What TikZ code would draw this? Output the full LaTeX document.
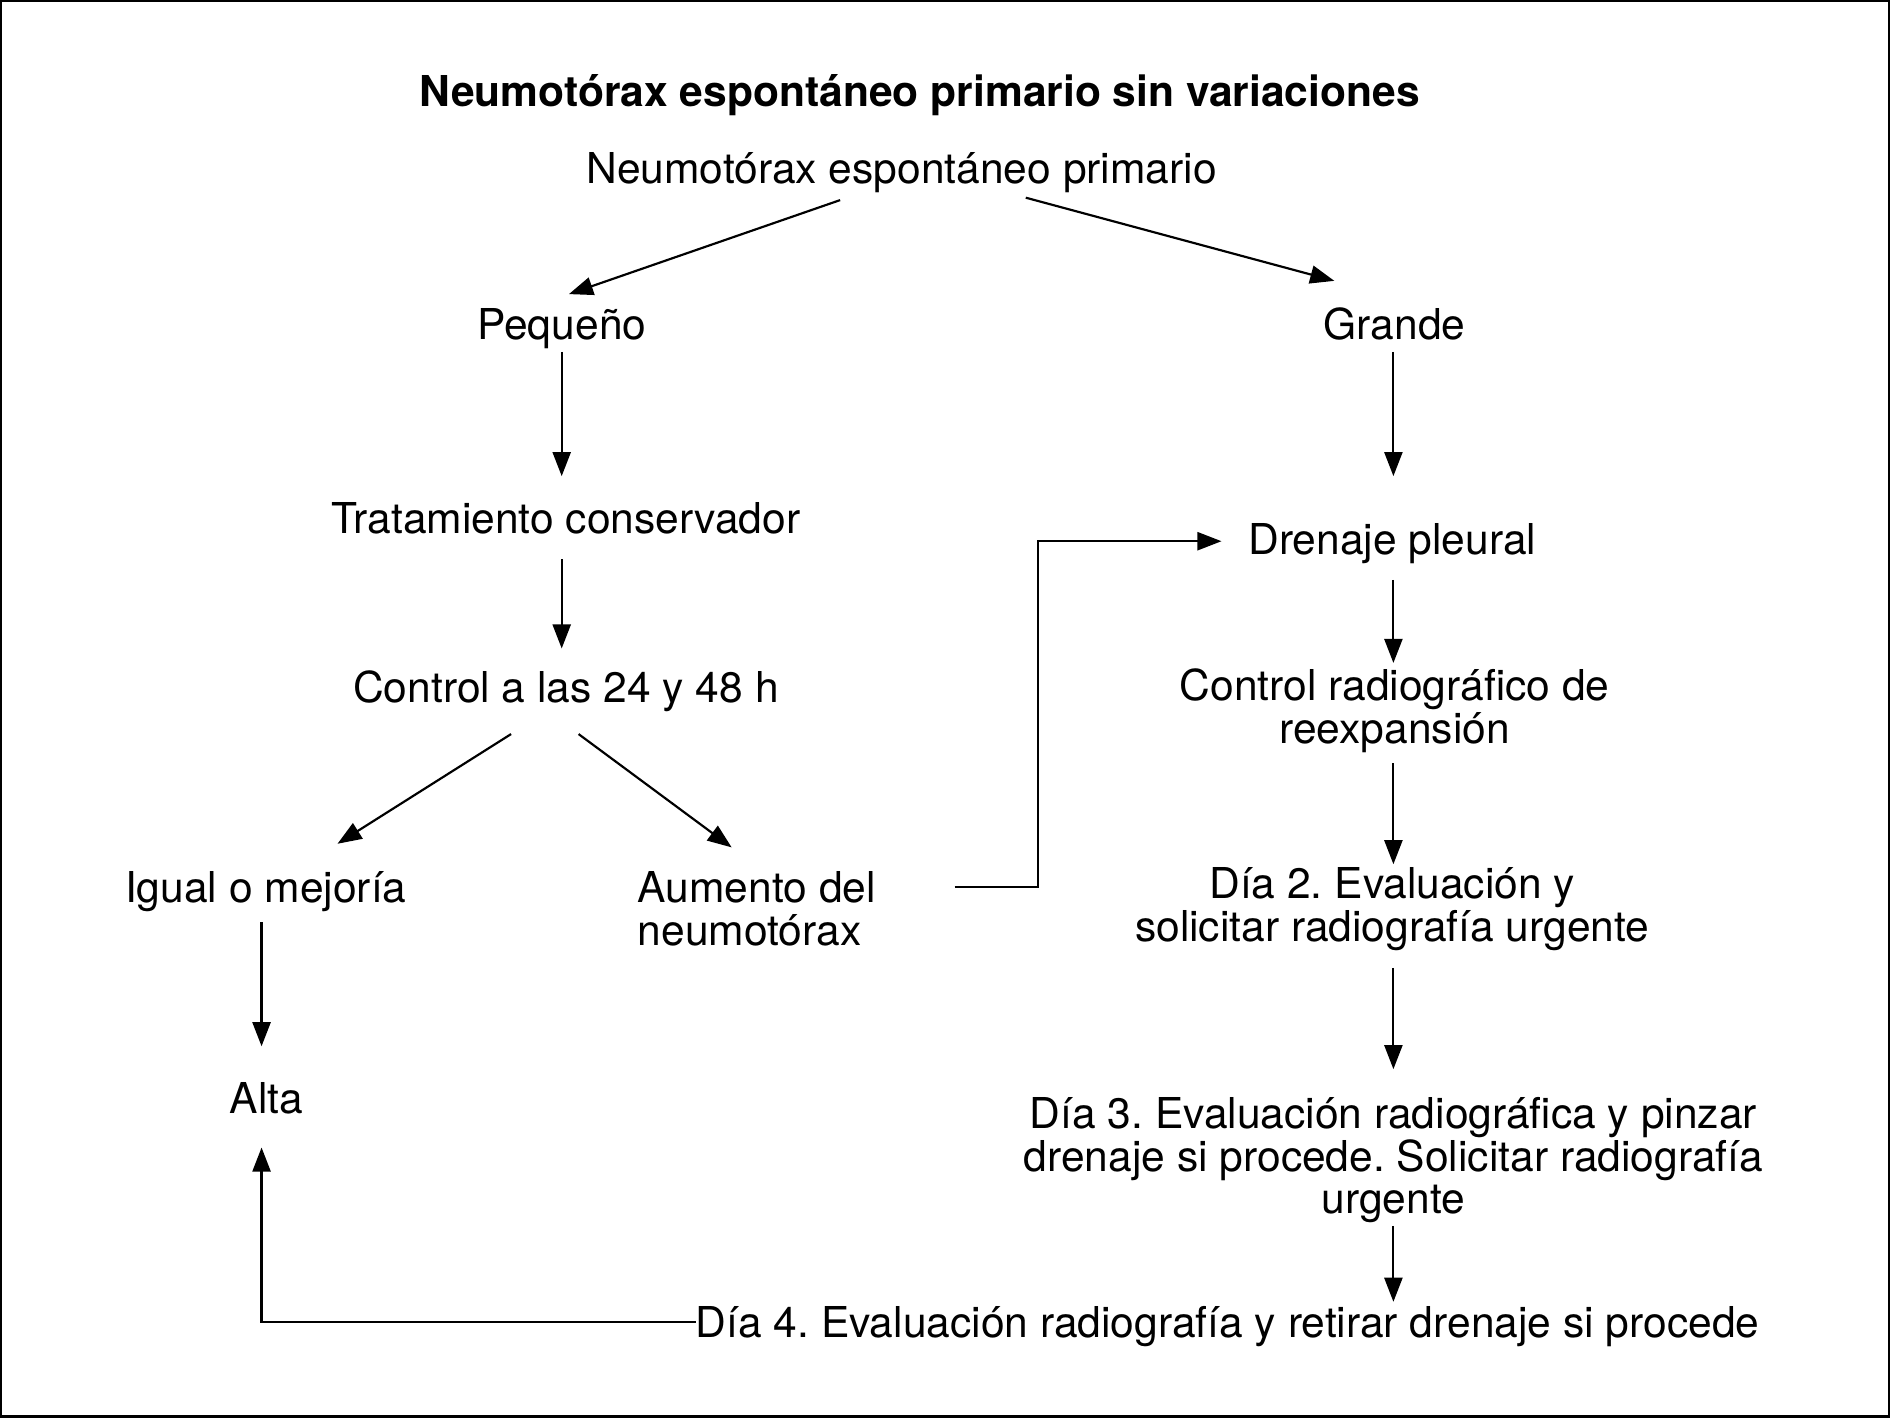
\documentclass[tikz,border=0pt]{standalone}
\usepackage{fontspec}
\setmainfont{TeX Gyre Heros}
\usetikzlibrary{arrows.meta,calc}
\frenchspacing
\begin{document}
\begin{tikzpicture}[x=1pt,y=-1pt,
  lbl/.style={inner sep=0pt,anchor=base,align=center,font=\fontsize{35.3}{35.5}\selectfont},
  arr/.style={line width=1.8pt,-{Triangle[length=20pt,width=15pt]}},
  ln/.style={line width=1.8pt}]
\useasboundingbox (0,0) rectangle (1568,1176);
\draw[line width=2pt] (1,1) rectangle (1567,1175);
\node[lbl,font=\fontsize{35.3}{35.5}\selectfont\bfseries] (title) at (763,88) {Neumotórax espontáneo primario sin variaciones};
\node[lbl] (neu) at (748,152) {Neumotórax espontáneo primario};
\node[lbl] (peq) at (466,282) {Pequeño};
\node[lbl] (gra) at (1157,282) {Grande};
\node[lbl] (trat) at (469.5,443) {Tratamiento conservador};
\node[lbl] (ctrl) at (469.5,583) {Control a las 24 y 48 h};
\node[lbl] (igual) at (220.5,749) {Igual o mejoría};
\node[lbl,anchor=base west,align=left] (aum) at (529,784) {Aumento del\\neumotórax};
\node[lbl] (alta) at (221,924) {Alta};
\node[lbl] (dren) at (1155,460) {Drenaje pleural};
\node[lbl] (crad) at (1157,617) {Control radiográfico de\\reexpansión};
\node[lbl] (dia2) at (1155,781) {Día 2. Evaluación y\\solicitar radiografía urgente};
\node[lbl] (dia3) at (1156,1007) {Día 3. Evaluación radiográfica y pinzar\\drenaje si procede. Solicitar radiografía\\urgente};
\node[lbl,anchor=base west] (dia4) at (577,1110) {Día 4. Evaluación radiografía y retirar drenaje si procede};
% connectors
\draw[arr] ($(neu.base)+(-51,14)$) -- ($(peq.base)+(6,-38)$);
\draw[arr] ($(neu.base)+(103,12)$) -- ($(gra.base)+(-50,-49)$);
\draw[arr] ($(peq.base)+(0,10)$) -- ($(peq.base |- trat.base)+(0,-48)$);
\draw[arr] ($(gra.base)+(-1,10)$) -- ($(gra.base |- dren.base)+(-1,-65)$);
\draw[arr] ($(peq.base |- trat.base)+(0,21)$) -- ($(peq.base |- ctrl.base)+(0,-45)$);
\draw[arr] ($(ctrl.base)+(-45.5,26)$) -- ($(igual.base)+(59.5,-49)$);
\draw[arr] ($(ctrl.base)+(10.5,26)$) -- ($(aum.base west)+(78,-81)$);
\draw[arr] ($(aum.base west)+(263,-48)$) -- ++(69,0) |- ($(dren.base west)+(-22,-11)$);
\draw[arr] ($(gra.base |- dren.base)+(-1,21)$) -- ($(gra.base |- crad.base)+(-1,-67)$);
\draw[arr] ($(gra.base |- crad.base)+(-1,16)$) -- ($(gra.base |- dia2.base)+(-1,-64)$);
\draw[arr] ($(gra.base |- dia2.base)+(-1,22)$) -- ($(gra.base |- dia3.base)+(-1,-120)$);
\draw[arr] ($(gra.base |- dia3.base)+(-1,10)$) -- ($(gra.base |- dia4.base)+(-1,-30)$);
\draw[arr] ($(dia4.base west)+(0,-13)$) -| ($(alta.base)+(-4,28)$);
\draw[arr] ($(igual.base)+(-3.5,16)$) -- ($(alta.base)+(-4,-56)$);
\end{tikzpicture}
\end{document}
